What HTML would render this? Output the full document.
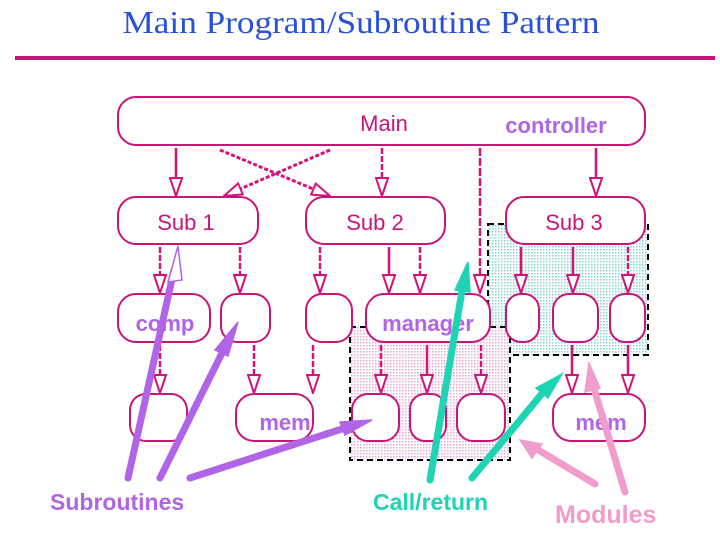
<!DOCTYPE html>
<html><head><meta charset="utf-8"><style>
html,body{margin:0;padding:0;background:#fff;}
svg{display:block;}
</style></head><body>
<svg width="720" height="540" viewBox="0 0 720 540" xmlns="http://www.w3.org/2000/svg">
<defs>
<pattern id="dt" width="3" height="3" patternUnits="userSpaceOnUse"><rect width="3" height="3" fill="#fff"/><rect width="1.5" height="1.5" fill="#7fd6cc"/></pattern>
<pattern id="dp" width="3" height="3" patternUnits="userSpaceOnUse"><rect width="3" height="3" fill="#fff"/><rect width="1.5" height="1.5" fill="#e3a6d0"/></pattern>
<marker id="ah" markerWidth="20" markerHeight="14" refX="19" refY="7" orient="auto" markerUnits="userSpaceOnUse" viewBox="0 0 20 14">
<path d="M1,1 L19,7 L1,13 Z" fill="#fff" stroke="#d4127a" stroke-width="2"/></marker>
</defs>
<text x="361" y="33" text-anchor="middle" font-family="Liberation Serif, serif" font-size="32" textLength="477" lengthAdjust="spacingAndGlyphs" fill="#2a4fd8">Main Program/Subroutine Pattern</text>
<rect x="15" y="56" width="700" height="4" fill="#c8157a"/>

<rect x="488" y="224" width="160" height="131" fill="url(#dt)" stroke="#000" stroke-width="2" stroke-dasharray="6,4"/>
<rect x="350" y="327" width="160" height="133" fill="url(#dp)" stroke="#000" stroke-width="2" stroke-dasharray="6,4"/>

<g fill="#fff" stroke="#c8157a" stroke-width="2">
<rect x="118" y="97" width="527" height="48" rx="18"/>
<rect x="118" y="197" width="140" height="47" rx="18"/>
<rect x="306" y="197" width="139" height="47" rx="18"/>
<rect x="506" y="197" width="139" height="47" rx="18"/>
<rect x="118" y="294" width="92" height="48" rx="18"/>
<rect x="221" y="294" width="49" height="48" rx="16"/>
<rect x="306" y="294" width="46" height="48" rx="16"/>
<rect x="366" y="294" width="124" height="48" rx="18"/>
<rect x="506" y="294" width="33" height="48" rx="15"/>
<rect x="553" y="294" width="45" height="48" rx="16"/>
<rect x="610" y="294" width="35" height="48" rx="15"/>
<rect x="130" y="394" width="57" height="47" rx="16"/>
<rect x="236" y="394" width="77" height="47" rx="18"/>
<rect x="352" y="394" width="47" height="47" rx="16"/>
<rect x="410" y="394" width="36" height="47" rx="15"/>
<rect x="457" y="394" width="48" height="47" rx="16"/>
<rect x="553" y="394" width="92" height="47" rx="18"/>
</g>

<g stroke="#d4127a" stroke-width="2.5" marker-end="url(#ah)" fill="none">
<line x1="176" y1="148" x2="176" y2="196"/>
<line x1="382" y1="148" x2="382" y2="196" stroke-dasharray="6,2"/>
<line x1="596" y1="148" x2="596" y2="196"/>
<line x1="480" y1="148" x2="480" y2="293" stroke-dasharray="8,2"/>
<line x1="330" y1="150" x2="224" y2="196" stroke-dasharray="4,2" stroke-width="3"/>
<line x1="220" y1="150" x2="330" y2="196" stroke-dasharray="4,2" stroke-width="3"/>
<line x1="160" y1="247" x2="160" y2="293" stroke-dasharray="6,2"/>
<line x1="240" y1="247" x2="240" y2="293" stroke-dasharray="6,2"/>
<line x1="320" y1="247" x2="320" y2="293" stroke-dasharray="6,2"/>
<line x1="389" y1="247" x2="389" y2="293"/>
<line x1="420" y1="247" x2="420" y2="293" stroke-dasharray="6,2"/>
<line x1="521" y1="247" x2="521" y2="293"/>
<line x1="573" y1="247" x2="573" y2="293"/>
<line x1="628" y1="247" x2="628" y2="293" stroke-dasharray="6,2"/>
<line x1="160" y1="345" x2="160" y2="393" stroke-dasharray="6,2"/>
<line x1="254" y1="345" x2="254" y2="393" stroke-dasharray="6,2"/>
<line x1="313" y1="345" x2="313" y2="393" stroke-dasharray="6,2"/>
<line x1="381" y1="345" x2="381" y2="393" stroke-dasharray="6,2"/>
<line x1="427" y1="345" x2="427" y2="393"/>
<line x1="481" y1="345" x2="481" y2="393" stroke-dasharray="6,2"/>
<line x1="572" y1="345" x2="572" y2="393"/>
<line x1="628" y1="345" x2="628" y2="393"/>
</g>

<g font-family="Liberation Sans, sans-serif" font-size="22" text-anchor="middle">
<text x="384" y="131" fill="#c8157a">Main</text>
<text x="556" y="133" fill="#b064e6" font-weight="bold">controller</text>
<text x="186" y="230" fill="#c8157a">Sub 1</text>
<text x="375" y="230" fill="#c8157a">Sub 2</text>
<text x="574" y="230" fill="#c8157a">Sub 3</text>
<text x="165" y="331" fill="#b064e6" font-weight="bold">comp</text>
<text x="428" y="331" fill="#b064e6" font-weight="bold">manager</text>
<text x="285" y="430" fill="#b064e6" font-weight="bold">mem</text>
<text x="601" y="430" fill="#b064e6" font-weight="bold">mem</text>
</g>

<g stroke-linecap="round" stroke-width="7" fill="none">
<g stroke="#b064e6">
<line x1="128" y1="478" x2="174" y2="270"/>
<line x1="160" y1="478" x2="226" y2="345"/>
<line x1="190" y1="478" x2="345" y2="428"/>
</g>
<g stroke="#1ed4b4">
<line x1="430" y1="480" x2="463" y2="285"/>
<line x1="472" y1="478" x2="545" y2="390"/>
</g>
<g stroke="#f09ccc">
<line x1="625" y1="492" x2="593" y2="385"/>
<line x1="595" y1="484" x2="535" y2="448"/>
</g>
</g>
<g stroke-width="1.5">
<path d="M178,246 L168,282 L182,280 Z" fill="#fff" stroke="#b064e6"/>
<path d="M238,322 L215,350 L228,356 Z" fill="#b064e6" stroke="#b064e6"/>
<path d="M372,420 L340,422 L345,435 Z" fill="#b064e6" stroke="#b064e6"/>
<path d="M468,262 L455,290 L470,292 Z" fill="#1ed4b4" stroke="#1ed4b4"/>
<path d="M562,374 L536,388 L548,398 Z" fill="#1ed4b4" stroke="#1ed4b4"/>
<path d="M589,363 L585,392 L600,388 Z" fill="#f09ccc" stroke="#f09ccc"/>
<path d="M520,440 L532,458 L542,444 Z" fill="#f09ccc" stroke="#f09ccc"/>
</g>

<g font-family="Liberation Sans, sans-serif" font-weight="bold">
<text x="50" y="510" font-size="23" fill="#b064e6">Subroutines</text>
<text x="373" y="510" font-size="23" fill="#1ed4b4">Call/return</text>
<text x="555" y="523" font-size="25" fill="#f09ccc">Modules</text>
</g>
</svg>
</body></html>
